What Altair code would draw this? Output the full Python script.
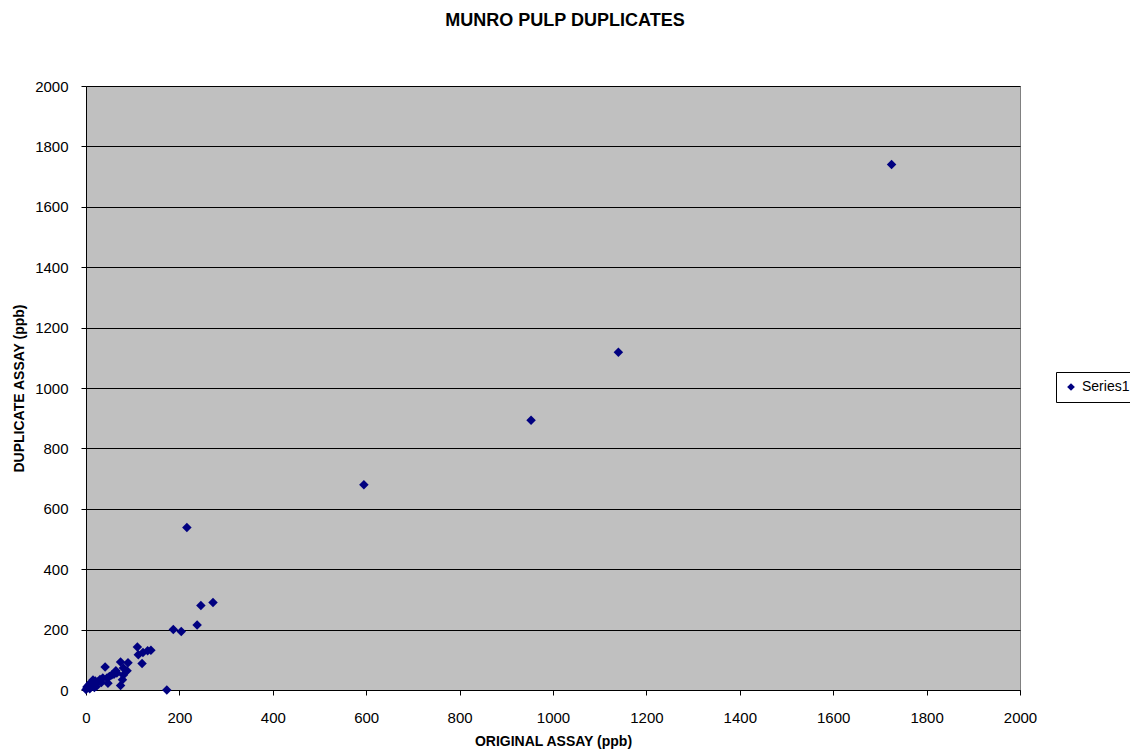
import altair as alt
import pandas as pd

original = [1725, 1140, 953, 595, 216, 272, 246, 238, 187, 204, 173,
            110, 132, 139, 122, 112, 120, 74, 90, 64, 88, 78, 74,
            41, 47, 55, 66, 80, 80, 36, 26, 15, 9, 2, 0, 5, 12, 20,
            30, 22, 45, 50, 18, 8, 33, 60]
duplicate = [1740, 1118, 893, 680, 538, 290, 280, 215, 200, 194, 0,
             142, 130, 132, 124, 117, 88, 93, 90, 64, 64, 34, 15,
             76, 22, 50, 56, 73, 50, 40, 27, 33, 22, 10, 2, 15, 20, 30,
             35, 12, 40, 45, 8, 4, 25, 52]
series = ["Series1"] * len(original)

df = pd.DataFrame({"orig": original, "dup": duplicate, "series": series})

FONT = "Liberation Sans"

chart = alt.Chart(df).mark_point(
    shape="diamond", filled=True, size=90, opacity=1
).encode(
    x=alt.X("orig:Q", title="ORIGINAL ASSAY (ppb)",
            scale=alt.Scale(domain=[0, 2000], nice=False),
            axis=alt.Axis(values=list(range(0, 2001, 200)), grid=False, format="d",
                          labelFlush=False,
                          tickSize=5, labelPadding=15, titlePadding=9,
                          labelFontSize=15, titleFontSize=14,
                          domainColor="black", tickColor="black",
                          labelColor="black", titleColor="black")),
    y=alt.Y("dup:Q", title="DUPLICATE ASSAY (ppb)",
            scale=alt.Scale(domain=[0, 2000], nice=False),
            axis=alt.Axis(values=list(range(0, 2001, 200)), grid=True, format="d",
                          labelFlush=False,
                          gridColor="black", gridWidth=1, gridOpacity=1,
                          tickSize=5, labelPadding=13, titlePadding=8,
                          labelFontSize=15, titleFontSize=14,
                          domainColor="black", tickColor="black",
                          labelColor="black", titleColor="black")),
    color=alt.Color("series:N", title=None,
                    scale=alt.Scale(range=["#000080"]),
                    legend=alt.Legend(orient="none", legendX=970, legendY=286,
                                      symbolType="diamond", symbolSize=60,
                                      labelFontSize=14, labelFont=FONT,
                                      labelColor="black",
                                      strokeColor="black", fillColor="white",
                                      padding=8, cornerRadius=0)),
).properties(
    width=934, height=604,
    title=alt.TitleParams("MUNRO PULP DUPLICATES", fontSize=18, font=FONT,
                          fontWeight="bold", anchor="middle", dx=12, offset=49),
    autosize=alt.AutoSizeParams(type="none"),
    padding={"left": 78, "top": 78, "right": 110, "bottom": 64},
).configure_view(
    fill="#C0C0C0", stroke="#808080", strokeWidth=1
).configure_axis(
    labelFont=FONT, titleFont=FONT, titleFontWeight="bold"
)

chart.save("out.html", embed_options={"renderer": "svg", "actions": False})
